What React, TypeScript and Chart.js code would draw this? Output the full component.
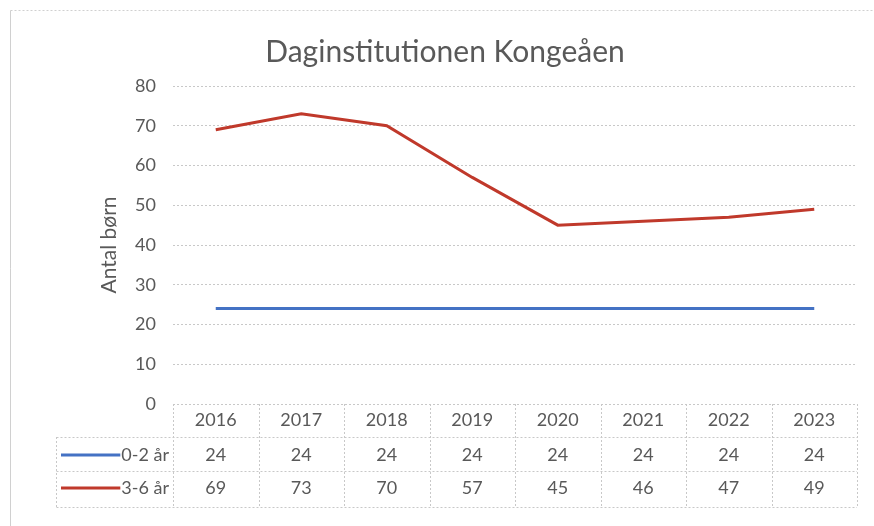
import React, { useEffect, useRef } from "react";
import { Chart, registerables } from "chart.js";

Chart.register(...registerables);

const title = "Daginstitutionen Kongeåen";
const yAxisTitle = "Antal børn";
const categories = ["2016", "2017", "2018", "2019", "2020", "2021", "2022", "2023"];
const seriesNames = ["0-2 år", "3-6 år"];
const series02 = [24, 24, 24, 24, 24, 24, 24, 24];
const series36 = [69, 73, 70, 57, 45, 46, 47, 49];
const seriesColors = ["#4472C4", "#C0392B"];
const yTicks = [0, 10, 20, 30, 40, 50, 60, 70, 80];

const FONT = "Lato, 'Open Sans', sans-serif";
const TEXT = "#595959";
const GRID = "#c8c8c8";

const tablePlugin = {
  id: "dataTable",
  beforeDraw(chart: any) {
    const ctx = chart.ctx;
    ctx.save();
    ctx.fillStyle = "#ffffff";
    ctx.fillRect(0, 0, chart.width, chart.height);
    ctx.strokeStyle = "#d0d0d0";
    ctx.lineWidth = 1;
    ctx.beginPath();
    ctx.moveTo(10.5, 526);
    ctx.lineTo(10.5, 10.5);
    ctx.stroke();
    ctx.setLineDash([2, 2]);
    ctx.beginPath();
    ctx.moveTo(10.5, 10.5);
    ctx.lineTo(874, 10.5);
    ctx.stroke();
    ctx.restore();
  },
  afterDraw(chart: any) {
    const ctx = chart.ctx;
    const x = chart.scales.x;
    const area = chart.chartArea;
    const top = area.bottom;
    const r1 = top + 33;
    const r2 = r1 + 34;
    const r3 = r2 + 36;
    const legendLeft = 56.5;
    const left = area.left;
    const right = area.right;
    const colW = (right - left) / categories.length;
    ctx.save();
    ctx.strokeStyle = GRID;
    ctx.lineWidth = 1;
    ctx.setLineDash([2, 2]);
    ctx.beginPath();
    ctx.moveTo(left, Math.round(top) + 0.5);
    ctx.lineTo(right, Math.round(top) + 0.5);
    [r1, r2, r3].forEach((yy) => {
      ctx.moveTo(legendLeft, Math.round(yy) + 0.5);
      ctx.lineTo(right, Math.round(yy) + 0.5);
    });
    for (let i = 0; i <= categories.length; i++) {
      const xx = Math.round(left + i * colW) + 0.5;
      ctx.moveTo(xx, top);
      ctx.lineTo(xx, r3);
    }
    ctx.moveTo(legendLeft, r1);
    ctx.lineTo(legendLeft, r3);
    ctx.stroke();
    ctx.setLineDash([]);

    ctx.font = `18px ${FONT}`;
    ctx.textBaseline = "middle";
    const rows = [series02, series36];
    rows.forEach((vals, ri) => {
      const cy = ri === 0 ? (r1 + r2) / 2 + 1 : (r2 + r3) / 2 - 1;
      ctx.textAlign = "center";
      ctx.fillStyle = TEXT;
      vals.forEach((v, i) => {
        ctx.fillText(String(v), x.getPixelForValue(i), cy);
      });
      const textRight = left - 4;
      const w = ctx.measureText(seriesNames[ri]).width;
      ctx.strokeStyle = seriesColors[ri];
      ctx.lineWidth = 3;
      ctx.beginPath();
      ctx.moveTo(61, cy);
      ctx.lineTo(textRight - w - 1, cy);
      ctx.stroke();
      ctx.textAlign = "right";
      ctx.fillText(seriesNames[ri], textRight, cy);
    });
    ctx.restore();
  },
};

export default function App() {
  const ref = useRef<HTMLCanvasElement | null>(null);
  useEffect(() => {
    if (!ref.current) return;
    const chart = new Chart(ref.current, {
      type: "line",
      data: {
        labels: categories,
        datasets: [
          {
            label: seriesNames[0],
            data: series02,
            borderColor: seriesColors[0],
            backgroundColor: seriesColors[0],
            borderWidth: 3,
            pointRadius: 0,
            tension: 0,
          },
          {
            label: seriesNames[1],
            data: series36,
            borderColor: seriesColors[1],
            backgroundColor: seriesColors[1],
            borderWidth: 3,
            pointRadius: 0,
            tension: 0,
          },
        ],
      },
      options: {
        animation: false,
        responsive: false,
        maintainAspectRatio: false,
        layout: { padding: { left: 33, right: 17, top: 0, bottom: 89 } },
        plugins: {
          legend: { display: false },
          tooltip: { enabled: false },
          title: {
            display: true,
            text: title,
            color: TEXT,
            font: { family: FONT, size: 30, weight: "normal" },
            padding: { top: 34, bottom: 16 },
          },
        },
        scales: {
          x: {
            offset: true,
            grid: { display: false, drawTicks: false },
            border: { display: false },
            ticks: {
              color: TEXT,
              font: { family: FONT, size: 18 },
              padding: 5,
              maxRotation: 0,
            },
            afterFit: (s: any) => {
              s.height = 33;
            },
          },
          y: {
            min: 0,
            max: 80,
            afterBuildTicks: (s: any) => {
              s.ticks = yTicks.map((v) => ({ value: v }));
            },
            grid: {
              color: GRID,
              drawTicks: false,
            },
            border: { display: false, dash: [2, 2] },
            ticks: {
              color: TEXT,
              font: { family: FONT, size: 18 },
              padding: 17,
            },
            title: {
              display: true,
              text: yAxisTitle,
              color: TEXT,
              font: { family: FONT, size: 21 },
              padding: { top: 64, bottom: 0 },
            },
            afterFit: (s: any) => {
              s.width = 140;
            },
          },
        },
      },
      plugins: [tablePlugin],
    });
    return () => chart.destroy();
  }, []);
  return (
    <div style={{ position: "fixed", left: 0, top: 0, width: 874, height: 526, background: "#fff" }}>
      <canvas ref={ref} width={874} height={526} style={{ width: 874, height: 526 }} />
    </div>
  );
}
